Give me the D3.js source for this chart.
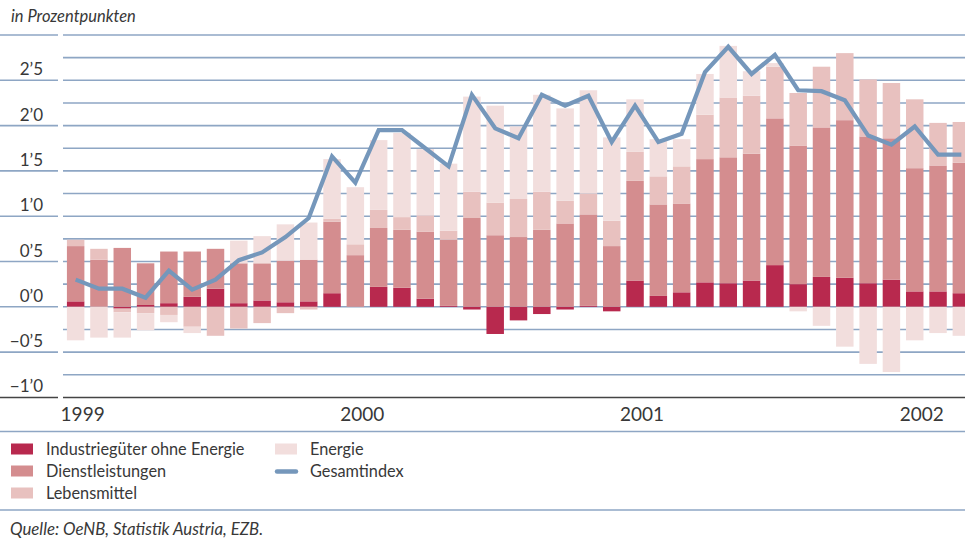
<!DOCTYPE html>
<html>
<head>
<meta charset="utf-8">
<script src="https://cdn.jsdelivr.net/npm/d3@7"></script>
<style>
  html, body { margin: 0; padding: 0; background: #fff; }
  svg { display: block; }
  text { font-family: Lato, "Open Sans", sans-serif; fill: #383838; }
</style>
</head>
<body>
<svg id="chart" width="965" height="542"></svg>
<script>
// ---- data ----
const months = ["1999-01","1999-02","1999-03","1999-04","1999-05","1999-06","1999-07","1999-08","1999-09","1999-10","1999-11","1999-12",
  "2000-01","2000-02","2000-03","2000-04","2000-05","2000-06","2000-07","2000-08","2000-09","2000-10","2000-11","2000-12",
  "2001-01","2001-02","2001-03","2001-04","2001-05","2001-06","2001-07","2001-08","2001-09","2001-10","2001-11","2001-12",
  "2002-01","2002-02","2002-03"];
const industrie = [0.06, 0.00, -0.02, 0.02, 0.04, 0.11, 0.20, 0.04, 0.07, 0.05, 0.06, 0.15,
  0.00, 0.22, 0.21, 0.09, 0.01, -0.03, -0.30, -0.15, -0.08, -0.03, 0.01, -0.05,
  0.29, 0.12, 0.16, 0.27, 0.26, 0.29, 0.46, 0.25, 0.33, 0.32, 0.26, 0.30,
  0.17, 0.17, 0.15];
const dienst = [0.61, 0.52, 0.65, 0.46, 0.57, 0.50, 0.44, 0.44, 0.41, 0.46, 0.46, 0.79,
  0.57, 0.65, 0.64, 0.74, 0.73, 0.98, 0.79, 0.77, 0.85, 0.92, 1.01, 0.67,
  1.10, 1.01, 0.98, 1.36, 1.39, 1.40, 1.62, 1.53, 1.65, 1.74, 1.62, 1.56,
  1.36, 1.39, 1.44];
const lebens = [0.07, 0.12, -0.04, -0.07, -0.09, -0.22, -0.32, -0.24, -0.18, -0.07, -0.03, 0.03,
  0.12, 0.20, 0.14, 0.18, 0.10, 0.29, 0.36, 0.42, 0.42, 0.25, 0.23, 0.28,
  0.32, 0.31, 0.41, 0.49, 0.66, 0.64, 0.57, 0.58, 0.67, 0.74, 0.63, 0.61,
  0.76, 0.47, 0.45];
const energie = [-0.37, -0.34, -0.28, -0.19, -0.08, -0.07, 0.00, 0.25, 0.30, 0.40, 0.41, 0.66,
  0.63, 0.77, 0.93, 0.73, 0.74, 1.05, 1.07, 0.80, 1.07, 1.02, 1.14, 0.92,
  0.58, 0.41, 0.30, 0.45, 0.57, 0.27, 0.04, -0.05, -0.21, -0.44, -0.63, -0.72,
  -0.37, -0.29, -0.32];
const gesamt = [0.30, 0.20, 0.20, 0.10, 0.40, 0.19, 0.30, 0.515, 0.60, 0.77, 0.98, 1.66,
  1.37, 1.95, 1.95, 1.75, 1.55, 2.34, 1.97, 1.86, 2.34, 2.22, 2.33, 1.82,
  2.22, 1.82, 1.91, 2.59, 2.87, 2.57, 2.78, 2.39, 2.38, 2.28, 1.89, 1.79,
  1.99, 1.68, 1.68];
const yTicks = [-1.0, -0.5, 0.0, 0.5, 1.0, 1.5, 2.0, 2.5];
const yTickLabels = ["−1’0", "−0’5", "0’0", "0’5", "1’0", "1’5", "2’0", "2’5"];
const years = ["1999", "2000", "2001", "2002"];
const yearMonths = ["1999-01", "2000-01", "2001-01", "2002-01"];
const seriesNames = ["Industriegüter ohne Energie", "Dienstleistungen", "Lebensmittel", "Energie"];
const lineName = "Gesamtindex";
const title = "in Prozentpunkten";
const source = "Quelle: OeNB, Statistik Austria, EZB.";

// ---- styles ----
const colors = ["#b8294e", "#d48d8f", "#e8c1bf", "#f2dedd"];
const lineColor = "#7597bb";
const gridColor = "#8ea6c4";

const svg = d3.select("#chart");
const x = d3.scaleBand().domain(months).range([64, 973]).paddingInner(0.25).paddingOuter(0.125);
const y = d3.scaleLinear().domain([-1, 3]).range([397.4, 35]);

// gridlines
const gridVals = d3.range(-0.75, 3.01, 0.25);
gridVals.forEach(v => {
  const half = Math.abs((v * 2) - Math.round(v * 2)) < 1e-6;
  if (half) {
    svg.append("line").attr("x1", 0).attr("x2", 58).attr("y1", y(v)).attr("y2", y(v))
      .attr("stroke", gridColor).attr("stroke-width", 1.6);
  }
  svg.append("line").attr("x1", 63).attr("x2", 965).attr("y1", y(v)).attr("y2", y(v))
    .attr("stroke", gridColor).attr("stroke-width", 1.6);
});
// bottom axis
[[0, 58], [63, 965]].forEach(([a, b]) => {
  svg.append("line").attr("x1", a).attr("x2", b).attr("y1", y(-1)).attr("y2", y(-1))
    .attr("stroke", "#444").attr("stroke-width", 1.5);
});

// y tick labels
svg.append("g").selectAll("text").data(yTicks).join("text")
  .attr("x", 43).attr("y", d => y(d) - 5)
  .attr("text-anchor", "end").attr("font-size", 17)
  .text((d, i) => yTickLabels[i]);

// stacked bars
const table = months.map((m, i) => ({ m, s0: industrie[i], s1: dienst[i], s2: lebens[i], s3: energie[i] }));
const stack = d3.stack().keys(["s0", "s1", "s2", "s3"]).offset(d3.stackOffsetDiverging);
const layers = stack(table);
svg.append("g").selectAll("g").data(layers).join("g")
  .attr("fill", (d, i) => colors[i])
  .selectAll("rect").data(d => d).join("rect")
  .attr("x", d => x(d.data.m))
  .attr("width", x.bandwidth())
  .attr("y", d => y(Math.max(d[0], d[1])))
  .attr("height", d => Math.abs(y(d[0]) - y(d[1])));

// line
const line = d3.line().x((d, i) => x(months[i]) + x.bandwidth() / 2).y(d => y(d));
svg.append("path").datum(gesamt).attr("d", line)
  .attr("fill", "none").attr("stroke", lineColor).attr("stroke-width", 4.2);

// year labels
svg.append("g").selectAll("text").data(years).join("text")
  .attr("x", (d, i) => x(yearMonths[i]) + x.bandwidth() / 2 + 7)
  .attr("y", 421).attr("text-anchor", "middle").attr("font-size", 19)
  .text(d => d);

// separators
[431.5, 510].forEach(v => {
  svg.append("line").attr("x1", 0).attr("x2", 965).attr("y1", v).attr("y2", v)
    .attr("stroke", gridColor).attr("stroke-width", 1.5);
});

// title & source
svg.append("text").attr("x", 11).attr("y", 22).attr("font-size", 16.5).attr("font-style", "italic").text(title);
svg.append("text").attr("x", 10).attr("y", 535).attr("font-size", 16.8).attr("font-style", "italic").text(source);

// legend
const legPos = [[11, 449], [11, 471], [11, 493], [275, 449]];
seriesNames.forEach((n, i) => {
  const [lx, ly] = legPos[i];
  svg.append("rect").attr("x", lx).attr("y", ly - 5.5).attr("width", 22).attr("height", 11).attr("fill", colors[i]);
  svg.append("text").attr("x", lx + 35).attr("y", ly + 6).attr("font-size", 16.3).text(n);
});
svg.append("line").attr("x1", 277).attr("x2", 296).attr("y1", 471.5).attr("y2", 471.5)
  .attr("stroke", lineColor).attr("stroke-width", 4.5).attr("stroke-linecap", "round");
svg.append("text").attr("x", 310).attr("y", 477).attr("font-size", 16.3).text(lineName);
</script>
</body>
</html>
